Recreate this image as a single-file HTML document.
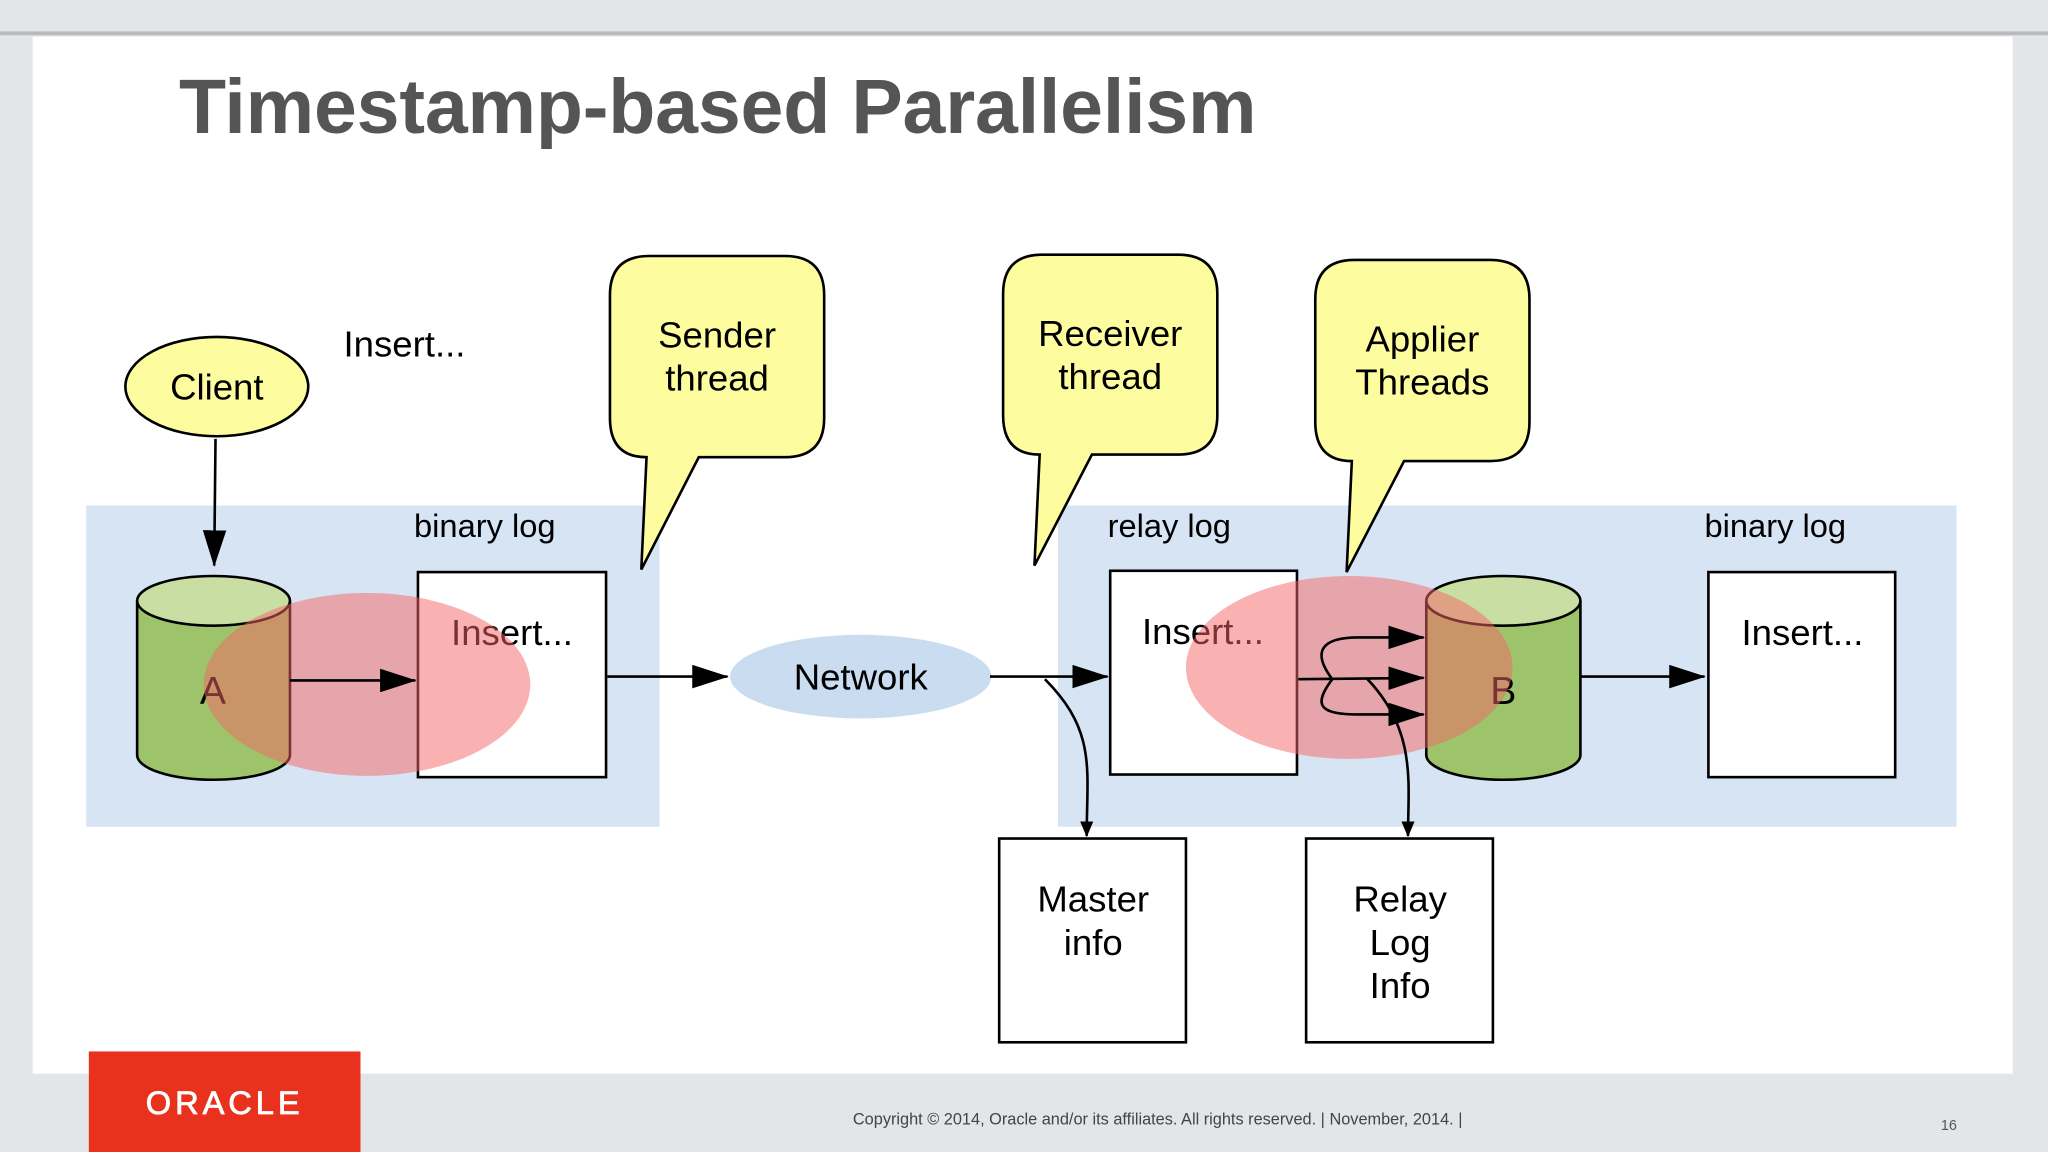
<!DOCTYPE html>
<html><head><meta charset="utf-8"><style>
html,body{margin:0;padding:0;background:#e3e5e9;}
svg{display:block;}
text{font-family:"Liberation Sans",sans-serif;}
</style></head><body>
<svg width="2048" height="1152" viewBox="0 0 1568 882" xmlns="http://www.w3.org/2000/svg">
<defs>
<marker id="ah" markerWidth="12" markerHeight="10" refX="11" refY="5" orient="auto" markerUnits="userSpaceOnUse" viewBox="0 0 12 10"><path d="M0,0 L12,5 L0,10 z" fill="#000"/></marker>
<marker id="ahs" markerWidth="28" markerHeight="18" refX="27" refY="9" orient="auto" markerUnits="userSpaceOnUse"><path d="M0,0 L28,9 L0,18 z" fill="#000"/></marker>
</defs>
<rect x="0" y="0" width="1568" height="882" fill="#e3e5e9"/>
<rect x="0" y="24" width="1568" height="3" fill="#b8babe"/>
<rect x="25" y="28" width="1516" height="794" fill="#fff"/>
<text x="137" y="102" font-size="59" font-weight="bold" fill="#555" textLength="825">Timestamp-based Parallelism</text>

<rect x="66" y="387" width="439" height="246" fill="#d6e4f3"/>
<rect x="810" y="387" width="688" height="246" fill="#d6e4f3"/>

<ellipse cx="166" cy="296" rx="70" ry="38" fill="#fdfda0" stroke="#000" stroke-width="2"/>
<text x="166" y="306" font-size="28" text-anchor="middle">Client</text>
<text x="263" y="273" font-size="28">Insert...</text>
<line x1="165" y1="336" x2="164" y2="433" stroke="#000" stroke-width="2" marker-end="url(#ahs)"/>

<text x="317" y="411" font-size="25">binary log</text>
<text x="848" y="411" font-size="25">relay log</text>
<text x="1305" y="411" font-size="25">binary log</text>

<path d="M105,460 L105,578 A58.5,19 0 0 0 222,578 L222,460" fill="#9dc46b" stroke="#000" stroke-width="2"/>
<ellipse cx="163.5" cy="460" rx="58.5" ry="19" fill="#c8dea2" stroke="#000" stroke-width="2"/>
<text x="163" y="539" font-size="30" text-anchor="middle">A</text>

<rect x="320" y="438" width="144" height="157" fill="#fff" stroke="#000" stroke-width="2"/>
<text x="392" y="494" font-size="28" text-anchor="middle">Insert...</text>
<ellipse cx="281" cy="524" rx="125" ry="70" fill="rgba(245,100,100,0.5)"/>
<line x1="222" y1="521" x2="318" y2="521" stroke="#000" stroke-width="2" marker-end="url(#ahs)"/>

<line x1="465" y1="518" x2="557" y2="518" stroke="#000" stroke-width="2" marker-end="url(#ahs)"/>
<ellipse cx="659" cy="518" rx="100" ry="32" fill="#c9dcf0"/>
<text x="659" y="528" font-size="28" text-anchor="middle">Network</text>
<line x1="758" y1="518" x2="848" y2="518" stroke="#000" stroke-width="2" marker-end="url(#ahs)"/>

<rect x="850" y="437" width="143" height="156" fill="#fff" stroke="#000" stroke-width="2"/>
<text x="921" y="493" font-size="28" text-anchor="middle">Insert...</text>

<path d="M1092,460 L1092,578 A59,19 0 0 0 1210,578 L1210,460" fill="#9dc46b" stroke="#000" stroke-width="2"/>
<ellipse cx="1151" cy="460" rx="59" ry="19" fill="#c8dea2" stroke="#000" stroke-width="2"/>
<text x="1151" y="539" font-size="30" text-anchor="middle">B</text>
<ellipse cx="1033" cy="511" rx="125" ry="70" fill="rgba(245,100,100,0.5)"/>

<path d="M994,520 L1090,519" stroke="#000" stroke-width="2" fill="none" marker-end="url(#ahs)"/>
<path d="M1020,520 C1005,500 1010,488 1040,488 L1090,488" stroke="#000" stroke-width="2" fill="none" marker-end="url(#ahs)"/>
<path d="M1020,520 C1005,540 1010,547 1040,547 L1090,547" stroke="#000" stroke-width="2" fill="none" marker-end="url(#ahs)"/>
<line x1="1210" y1="518" x2="1305" y2="518" stroke="#000" stroke-width="2" marker-end="url(#ahs)"/>
<rect x="1308" y="438" width="143" height="157" fill="#fff" stroke="#000" stroke-width="2"/>
<text x="1380" y="494" font-size="28" text-anchor="middle">Insert...</text>

<path d="M800,520 C840,560 832,590 832,640" stroke="#000" stroke-width="2" fill="none" marker-end="url(#ah)"/>
<path d="M1047,520 C1085,560 1078,600 1078,640" stroke="#000" stroke-width="2" fill="none" marker-end="url(#ah)"/>

<rect x="765" y="642" width="143" height="156" fill="#fff" stroke="#000" stroke-width="2"/>
<text x="837" y="698" font-size="28" text-anchor="middle">Master</text>
<text x="837" y="731" font-size="28" text-anchor="middle">info</text>
<rect x="1000" y="642" width="143" height="156" fill="#fff" stroke="#000" stroke-width="2"/>
<text x="1072" y="698" font-size="28" text-anchor="middle">Relay</text>
<text x="1072" y="731" font-size="28" text-anchor="middle">Log</text>
<text x="1072" y="764" font-size="28" text-anchor="middle">Info</text>

<path d="M497,196 L601,196 Q631,196 631,226 L631,320 Q631,350 601,350 L535,350 L491,436 L495,350 Q467,350 467,320 L467,226 Q467,196 497,196 Z" fill="#fdfda0" stroke="#000" stroke-width="2"/>
<text x="549" y="266" font-size="28" text-anchor="middle">Sender</text>
<text x="549" y="299" font-size="28" text-anchor="middle">thread</text>
<path d="M798,195 L902,195 Q932,195 932,225 L932,318 Q932,348 902,348 L836,348 L792,433 L796,348 Q768,348 768,318 L768,225 Q768,195 798,195 Z" fill="#fdfda0" stroke="#000" stroke-width="2"/>
<text x="850" y="265" font-size="28" text-anchor="middle">Receiver</text>
<text x="850" y="298" font-size="28" text-anchor="middle">thread</text>
<path d="M1037,199 L1141,199 Q1171,199 1171,229 L1171,323 Q1171,353 1141,353 L1075,353 L1031,438 L1035,353 Q1007,353 1007,323 L1007,229 Q1007,199 1037,199 Z" fill="#fdfda0" stroke="#000" stroke-width="2"/>
<text x="1089" y="269" font-size="28" text-anchor="middle">Applier</text>
<text x="1089" y="302" font-size="28" text-anchor="middle">Threads</text>

<rect x="68" y="805" width="208" height="77" fill="#e8321e"/>
<text x="172" y="853" font-size="25" fill="#fff" text-anchor="middle" letter-spacing="3" stroke="#fff" stroke-width="0.6">ORACLE</text>
<text x="653" y="861" font-size="12.5" fill="#444">Copyright © 2014, Oracle and/or its affiliates. All rights reserved. | November, 2014. |</text>
<text x="1486" y="865" font-size="11" fill="#555">16</text>
</svg>
</body></html>
